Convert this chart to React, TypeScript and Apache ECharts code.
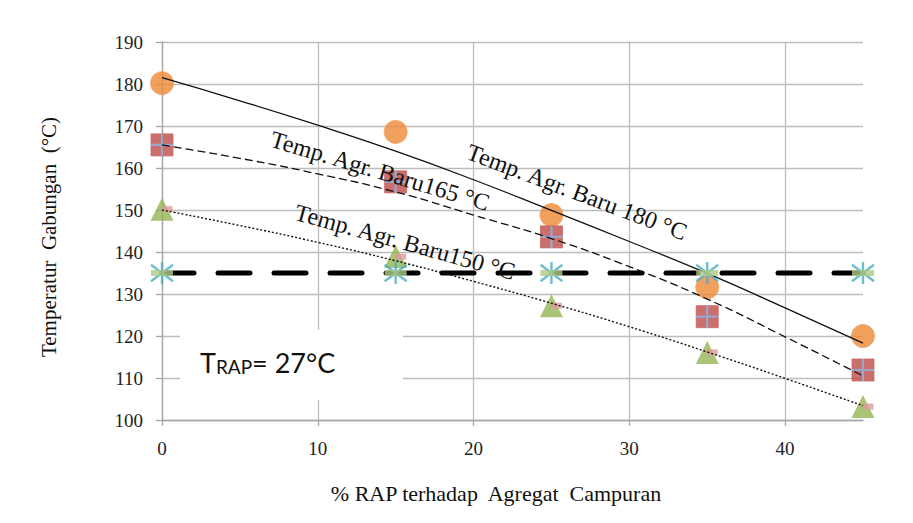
import React, { useEffect, useRef } from "react";
import * as echarts from "echarts";

// % RAP in the mix
const RAP = [0, 15, 25, 35, 45];
// measured combined temperatures (°C) for each new-aggregate temperature
const T180 = [180.2, 168.6, 148.8, 131.6, 120];
const T165 = [165.5, 156.7, 143.6, 124.6, 111.9];
const T150 = [150.2, 138.9, 127.2, 116.1, 103.2];
// minimum mixing temperature
const T_MIN = [135, 135, 135, 135, 135];
const LIMIT_X = [0, 45];
const LIMIT_Y = [135, 135];

// trend lines
const TREND_X = [0, 5, 10, 15, 20, 25, 30, 35, 40, 45];
const FIT180 = [181.5, 176, 170.2, 164, 157.2, 149.9, 142.5, 134.9, 126.7, 118.3];
const FIT165 = [165.5, 162.3, 158.6, 154.3, 148.8, 143.2, 136.5, 128.8, 119.8, 110.5];
const FIT150 = [150, 146.3, 142.3, 137.9, 133, 127.8, 122.2, 116.2, 109.9, 103.4];

const X_TICKS = [0, 10, 20, 30, 40];

const SERIF = "'Liberation Serif', 'Times New Roman', serif";

const pairs = (xs: number[], ys: number[]) => xs.map((x, i) => [x, ys[i]]);

export default function App() {
  const ref = useRef<HTMLDivElement>(null);

  useEffect(() => {
    if (!ref.current) return;
    const chart = echarts.init(ref.current, null, { renderer: "svg" });

    const option: any = {
      animation: false,
      backgroundColor: "#ffffff",
      grid: { left: 162, right: 50, top: 42, bottom: 103, outerBoundsMode: "none" },
      xAxis: {
        type: "value",
        min: 0,
        max: 45,
        interval: 5,
        axisLine: { lineStyle: { color: "#A6A6A6", width: 1.3 } },
        axisTick: { customValues: X_TICKS, length: 6, lineStyle: { color: "#A6A6A6", width: 1.3 } },
        axisLabel: {
          customValues: X_TICKS,
          fontFamily: SERIF,
          fontSize: 19,
          color: "#222",
          margin: 19,
        },
        splitLine: { show: true, lineStyle: { color: "#BDBDBD", width: 1.3 } },
      },
      yAxis: {
        type: "value",
        min: 100,
        max: 190,
        interval: 10,
        axisLine: { show: true, lineStyle: { color: "#A6A6A6", width: 1.3 } },
        axisTick: { show: true, length: 6, lineStyle: { color: "#A6A6A6", width: 1.3 } },
        axisLabel: { fontFamily: SERIF, fontSize: 19, color: "#222", margin: 19 },
        splitLine: { show: true, lineStyle: { color: "#BDBDBD", width: 1.3 } },
      },
      series: [
        {
          type: "line",
          data: pairs(LIMIT_X, LIMIT_Y),
          showSymbol: false,
          z: 2,
          lineStyle: { color: "#000", width: 5, type: [32, 24], cap: "round" },
        },
        {
          type: "scatter",
          data: pairs(RAP, T180),
          symbol: "circle",
          symbolSize: 23,
          z: 2,
          itemStyle: { color: "#EE8A35", borderColor: "#F2A060", borderWidth: 1 },
        },
        {
          type: "scatter",
          data: pairs(RAP, T165),
          symbol: "rect",
          symbolSize: 22,
          z: 2,
          itemStyle: { color: "#BE4B48", borderColor: "#C86562", borderWidth: 1 },
        },
        {
          type: "scatter",
          data: pairs(RAP, T165),
          symbol: "path://M-10,0L10,0M0,-10L0,10",
          symbolSize: 22,
          z: 2,
          itemStyle: { color: "none", borderColor: "#8EB4E3", borderWidth: 2.2 },
        },
        {
          type: "scatter",
          data: pairs(RAP, T150),
          symbol: "triangle",
          symbolSize: [23, 23],
          z: 2,
          itemStyle: { color: "#93B552" },
        },
        {
          type: "scatter",
          data: pairs(RAP, T150),
          symbol: "rect",
          symbolSize: [11, 6],
          symbolOffset: [5, 0],
          z: 2,
          itemStyle: { color: "#DE9A9C" },
        },
        {
          type: "line",
          data: pairs(TREND_X, FIT180),
          smooth: true,
          showSymbol: false,
          z: 3,
          lineStyle: { color: "#111", width: 1.3, type: "solid" },
        },
        {
          type: "line",
          data: pairs(TREND_X, FIT165),
          smooth: true,
          showSymbol: false,
          z: 3,
          lineStyle: { color: "#111", width: 1.3, type: [8, 4] },
        },
        {
          type: "line",
          data: pairs(TREND_X, FIT150),
          smooth: true,
          showSymbol: false,
          z: 3,
          lineStyle: { color: "#111", width: 1.4, type: [2, 2] },
        },
        {
          type: "scatter",
          data: pairs(RAP, T_MIN),
          symbol: "path://M0,-10L0,10M-7.5,-7.5L7.5,7.5M-7.5,7.5L7.5,-7.5",
          symbolSize: 22,
          z: 4,
          itemStyle: { color: "none", borderColor: "#4BACC6", borderWidth: 2.4 },
        },
        {
          type: "scatter",
          data: pairs(RAP, T_MIN),
          symbol: "rect",
          symbolSize: [22, 6],
          z: 4,
          itemStyle: { color: "#AFCB83" },
        },
      ],
      graphic: [
        {
          type: "text",
          x: 577,
          y: 192,
          rotation: -0.36,
          z: 10,
          style: {
            text: "Temp. Agr. Baru 180 °C",
            fontFamily: SERIF,
            fontSize: 24,
            fill: "#111",
            align: "center",
            verticalAlign: "middle",
          },
        },
        {
          type: "text",
          x: 380,
          y: 171,
          rotation: -0.29,
          z: 10,
          style: {
            text: "Temp. Agr. Baru165 °C",
            fontFamily: SERIF,
            fontSize: 24,
            fill: "#111",
            align: "center",
            verticalAlign: "middle",
          },
        },
        {
          type: "text",
          x: 405,
          y: 242,
          rotation: -0.27,
          z: 10,
          style: {
            text: "Temp. Agr. Baru150 °C",
            fontFamily: SERIF,
            fontSize: 24,
            fill: "#111",
            align: "center",
            verticalAlign: "middle",
          },
        },
        {
          type: "rect",
          shape: { x: 180, y: 330, width: 223, height: 70 },
          z: 5,
          style: { fill: "#ffffff" },
        },
        {
          type: "text",
          x: 200,
          y: 376,
          z: 10,
          style: {
            text: "{a|T}{b|RAP}{a|= 27°C}",
            fontFamily: "Lato, 'Open Sans', sans-serif",
            fill: "#111",
            align: "left",
            verticalAlign: "bottom",
            rich: {
              a: { fontSize: 27, lineHeight: 30, verticalAlign: "bottom", fontFamily: "Lato, sans-serif", fill: "#111" },
              b: { fontSize: 19, lineHeight: 24, verticalAlign: "bottom", fontFamily: "Lato, sans-serif", fill: "#111" },
            },
          },
        },
        {
          type: "text",
          x: 49,
          y: 237,
          rotation: Math.PI / 2,
          z: 10,
          style: {
            text: "Temperatur  Gabungan  (°C)",
            fontFamily: SERIF,
            fontSize: 21,
            fill: "#111",
            align: "center",
            verticalAlign: "middle",
          },
        },
        {
          type: "text",
          x: 496,
          y: 493,
          z: 10,
          style: {
            text: "% RAP terhadap  Agregat  Campuran",
            fontFamily: SERIF,
            fontSize: 22,
            fill: "#111",
            align: "center",
            verticalAlign: "middle",
          },
        },
      ],
    };

    chart.setOption(option);
    return () => chart.dispose();
  }, []);

  return (
    <div
      ref={ref}
      style={{ position: "absolute", left: 0, top: 0, width: 913, height: 523 }}
    />
  );
}
